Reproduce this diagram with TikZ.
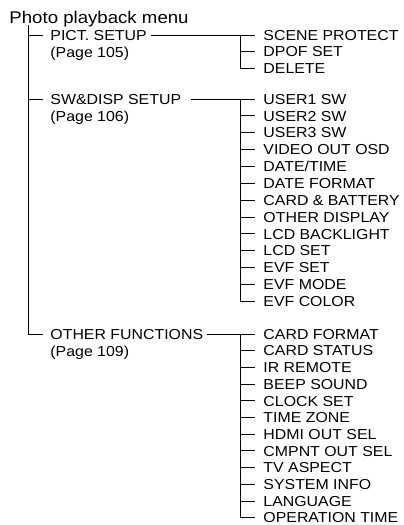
\documentclass[tikz,border=0pt]{standalone}
\usepackage{fontspec}
\setmainfont{Liberation Sans}[FakeStretch=1.1]
\begin{document}
\begin{tikzpicture}[x=1bp,y=-1bp,line width=0.9bp,
  base/.style={anchor=west,inner ysep=0pt,text depth=0pt},
  ttl/.style={base,inner xsep=0pt,font=\fontsize{17}{19}\selectfont,text height=12.2bp},
  mlbl/.style={base,inner xsep=7bp,font=\fontsize{14.5}{16}\selectfont,text height=10.4bp},
  plbl/.style={base,inner xsep=0pt,font=\fontsize{14.5}{16}\selectfont,text height=10.4bp},
  sub/.style={base,inner xsep=8bp,font=\fontsize{14.5}{16}\selectfont,text height=10.4bp}]
\useasboundingbox (0,0) rectangle (403,525);
\node[ttl] (title) at (9,17) {Photo playback menu};
\coordinate (top) at (28,25);
\coordinate (jx) at (240,0);
% first level
\node[mlbl] (pict) at (43,35) {PICT. SETUP};
\node[plbl] (pictp) at (50,52) {(Page 105)};
\node[mlbl] (sw) at (43,99) {SW\&DISP SETUP};
\node[plbl] (swp) at (50,116) {(Page 106)};
\node[mlbl] (oth) at (43,334) {OTHER FUNCTIONS};
\node[plbl] (othp) at (50,351) {(Page 109)};
\draw (top) |- (oth.west);
\draw (top |- pict.west) -- (pict.west);
\draw (top |- sw.west) -- (sw.west);
% PICT. SETUP
\foreach \t [count=\i] in {SCENE PROTECT,DPOF SET,DELETE}
  \node[sub] (p\i) at (255,{35+(\i-1)*16.7}) {\t};
\draw ([xshift=-3bp]pict.east) -- (p1.west);
\draw (p1.west -| jx) |- (p3.west);
\draw (p2.west -| jx) -- (p2.west);
% SW&DISP SETUP
\foreach \t [count=\i] in {USER1 SW,USER2 SW,USER3 SW,VIDEO OUT OSD,DATE/TIME,DATE FORMAT,CARD \& BATTERY,OTHER DISPLAY,LCD BACKLIGHT,LCD SET,EVF SET,EVF MODE,EVF COLOR}
  \node[sub] (s\i) at (255,{99+(\i-1)*16.85}) {\t};
\draw ([xshift=2bp]sw.east) -- (s1.west);
\draw (s1.west -| jx) |- (s13.west);
\foreach \i in {2,...,12} \draw (s\i.west -| jx) -- (s\i.west);
% OTHER FUNCTIONS
\foreach \t [count=\i] in {CARD FORMAT,CARD STATUS,IR REMOTE,BEEP SOUND,CLOCK SET,TIME ZONE,HDMI OUT SEL,CMPNT OUT SEL,TV ASPECT,SYSTEM INFO,LANGUAGE,OPERATION TIME}
  \node[sub] (o\i) at (255,{334+(\i-1)*16.7}) {\t};
\draw ([xshift=-3.5bp]oth.east) -- (o1.west);
\draw (o1.west -| jx) |- (o12.west);
\foreach \i in {2,...,11} \draw (o\i.west -| jx) -- (o\i.west);
\end{tikzpicture}
\end{document}
